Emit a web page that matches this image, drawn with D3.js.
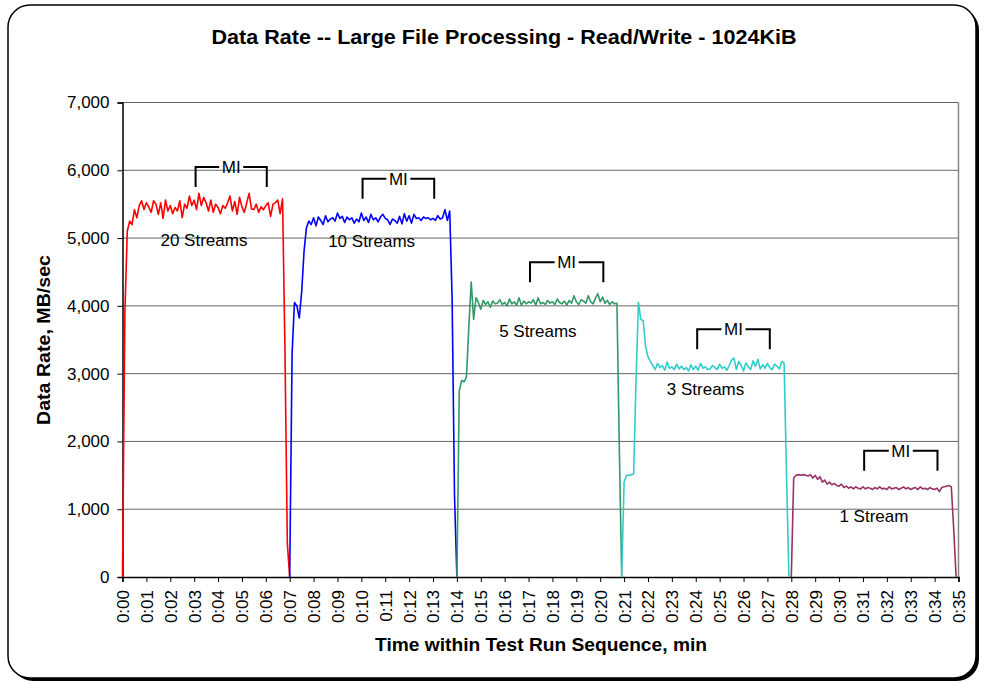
<!DOCTYPE html>
<html>
<head>
<meta charset="utf-8">
<script src="https://cdn.jsdelivr.net/npm/d3@7"></script>
<style>
  body { margin: 0; background: #fff; }
  text { font-family: "Liberation Sans", Arial, sans-serif; fill: #000; }
</style>
</head>
<body>
<div id="chart"></div>
<script>
// samples every 0.1 min, one array per run
const step = 0.1;

const streams20 = [0, 3900, 5100, 5250, 5200, 5420, 5300, 5480, 5550, 5420,
  5520, 5460, 5380, 5550, 5500, 5350, 5520, 5290, 5560, 5400,
  5480, 5360, 5450, 5400, 5550, 5300, 5500, 5440, 5620, 5480,
  5560, 5420, 5660, 5480, 5600, 5520, 5400, 5560, 5380, 5500,
  5450, 5360, 5480, 5440, 5520, 5620, 5400, 5540, 5350, 5600,
  5460, 5380, 5520, 5660, 5430, 5420, 5500, 5380, 5460, 5420,
  5480, 5520, 5320, 5500, 5520, 5560, 5360, 5580, 3400, 500, 0];

const streams10 = [0, 3300, 4050, 4000, 3820, 4200, 4800, 5150, 5250, 5200,
  5300, 5180, 5310, 5260, 5200, 5330, 5240, 5280, 5300, 5250,
  5370, 5290, 5320, 5230, 5310, 5270, 5300, 5220, 5280, 5240,
  5370, 5260, 5310, 5230, 5350, 5270, 5300, 5240, 5310, 5350,
  5290, 5270, 5200, 5280, 5260, 5220, 5320, 5210, 5360, 5250,
  5330, 5220, 5350, 5290, 5300, 5260, 5310, 5290, 5300, 5270,
  5290, 5260, 5330, 5280, 5300, 5420, 5260, 5400, 4100, 1200, 0];

const streams5 = [0, 2750, 2900, 2880, 2950, 3700, 4350, 3800, 4120, 4050,
  3950, 4080, 4020, 4060, 3980, 4070, 4030, 4040, 4090, 4020,
  4050, 4000, 4100, 4030, 4060, 4010, 4120, 4010, 4070, 4030,
  4060, 4040, 4090, 4010, 4120, 4030, 4050, 4020, 4080, 4040,
  4060, 4020, 4100, 4050, 4030, 4070, 4010, 4080, 4040, 4150,
  4060, 4020, 4090, 4070, 4040, 4150, 4060, 4030, 4110, 4180,
  4060, 4130, 4040, 4080, 4020, 4060, 4030, 4040, 1900, 0];

const streams3 = [0, 1400, 1500, 1500, 1510, 1520, 2900, 4050, 3800, 3780,
  3400, 3250, 3180, 3120, 3060, 3150, 3090, 3120, 3050, 3170,
  3080, 3100, 3060, 3140, 3070, 3110, 3060, 3090, 3040, 3130,
  3060, 3110, 3050, 3150, 3080, 3100, 3060, 3070, 3120, 3090,
  3060, 3140, 3080, 3100, 3050, 3120, 3200, 3230, 3060, 3180,
  3120, 3040, 3160, 3100, 3060, 3190, 3110, 3210, 3070, 3130,
  3080, 3150, 3090, 3060, 3140, 3110, 3070, 3180, 3150, 1500, 0];

const streams1 = [0, 1460, 1500, 1510, 1500, 1510, 1500, 1490, 1510, 1460,
  1500, 1440, 1480, 1400, 1430, 1370, 1400, 1360, 1380, 1350,
  1340, 1370, 1320, 1340, 1310, 1330, 1300, 1330, 1310, 1300,
  1330, 1300, 1320, 1310, 1290, 1320, 1300, 1330, 1300, 1310,
  1290, 1330, 1300, 1310, 1320, 1290, 1310, 1330, 1300, 1320,
  1290, 1310, 1320, 1290, 1330, 1300, 1310, 1290, 1320, 1300,
  1290, 1310, 1260, 1320, 1330, 1340, 1350, 1330, 700, 0];

const runNames = ["20 Streams", "10 Streams", "5 Streams", "3 Streams", "1 Stream"];
const runStarts = [0.0, 7.0, 14.0, 20.9, 28.0];
const runColors = ["#ff0000", "#0000ff", "#339966", "#33cccc", "#993366"];
const runValues = [streams20, streams10, streams5, streams3, streams1];

// run label anchor (min, MB/sec)
const labelX = [3.41, 10.43, 17.39, 24.41, 31.46];
const labelY = [4885, 4870, 3542, 2686, 812];

// measurement interval brackets
const miStart = [3.06, 10.05, 17.06, 24.06, 31.05];
const miEnd = [6.04, 13.05, 20.13, 27.1, 34.12];
const miTop = [6050, 5874, 4644, 3656, 1864];

const yTicks = [0, 1000, 2000, 3000, 4000, 5000, 6000, 7000];
const xTicks = d3.range(0, 36);

const W = 984, H = 683;
const svg = d3.select("#chart").append("svg")
  .attr("width", W).attr("height", H);

// frame with shadow
svg.append("rect")
  .attr("x", 11).attr("y", 8).attr("width", 968).attr("height", 673)
  .attr("rx", 22).attr("fill", "#000");
svg.append("rect")
  .attr("x", 8).attr("y", 5).attr("width", 968).attr("height", 673)
  .attr("rx", 22).attr("fill", "#fff").attr("stroke", "#000").attr("stroke-width", 1.5);

const x = d3.scaleLinear().domain([0, 35]).range([122.5, 958.5]);
const y = d3.scaleLinear().domain([0, 7000]).range([577, 102.5]);

// gridlines
svg.append("g")
  .selectAll("line")
  .data(yTicks.filter(d => d > 0))
  .join("line")
  .attr("x1", x(0)).attr("x2", x(35))
  .attr("y1", d => y(d)).attr("y2", d => y(d))
  .attr("stroke", "#666").attr("stroke-width", 1);

svg.append("line")
  .attr("x1", x(35)).attr("x2", x(35))
  .attr("y1", y(0)).attr("y2", y(7000))
  .attr("stroke", "#888").attr("stroke-width", 1.5);

// axes
const yAxis = svg.append("g")
  .attr("transform", `translate(${x(0)},0)`)
  .call(d3.axisLeft(y).tickValues(yTicks).tickSize(5).tickPadding(8)
    .tickFormat(d3.format(",")));
yAxis.selectAll("text").style("font-size", "17px");

const xAxis = svg.append("g")
  .attr("transform", `translate(0,${y(0)})`)
  .call(d3.axisBottom(x).tickValues(xTicks).tickSize(5)
    .tickFormat(d => "0:" + String(d).padStart(2, "0")));
xAxis.selectAll("text")
  .style("font-size", "17px")
  .attr("text-anchor", "end")
  .attr("transform", "rotate(-90)")
  .attr("x", -13).attr("y", 0).attr("dy", "0.35em");

svg.selectAll(".domain").attr("stroke", "#000").attr("stroke-width", 1.5);
svg.selectAll(".tick line").attr("stroke", "#000");

// data lines
const line = d3.line()
  .x(d => x(d[0]))
  .y(d => y(d[1]));

runValues.forEach((vals, k) => {
  const pts = vals.map((v, i) => [runStarts[k] + i * step, v]);
  svg.append("path")
    .datum(pts)
    .attr("fill", "none")
    .attr("stroke", runColors[k])
    .attr("stroke-width", 1.6)
    .attr("stroke-linejoin", "round")
    .attr("d", line);
});

// labels
svg.append("g")
  .selectAll("text")
  .data(runNames)
  .join("text")
  .attr("x", (d, i) => x(labelX[i]))
  .attr("y", (d, i) => y(labelY[i]))
  .attr("text-anchor", "middle")
  .style("font-size", "17px")
  .text(d => d);

// MI brackets
const mi = svg.append("g");
miStart.forEach((s, i) => {
  const x1 = x(s), x2 = x(miEnd[i]), yt = y(miTop[i]);
  const mid = (x1 + x2) / 2;
  const g = mi.append("g").attr("stroke", "#000").attr("stroke-width", 2).attr("fill", "none");
  g.append("path").attr("d", `M${x1},${yt + 20}V${yt}H${mid - 12}`);
  g.append("path").attr("d", `M${x2},${yt + 20}V${yt}H${mid + 12}`);
  mi.append("text")
    .attr("x", mid).attr("y", yt + 6)
    .attr("text-anchor", "middle")
    .style("font-size", "17px")
    .text("MI");
});

// titles
svg.append("text")
  .attr("x", 504).attr("y", 43.5)
  .attr("text-anchor", "middle")
  .attr("textLength", 585).attr("lengthAdjust", "spacingAndGlyphs")
  .style("font-size", "19.5px").style("font-weight", "bold")
  .text("Data Rate -- Large File Processing - Read/Write - 1024KiB");

svg.append("text")
  .attr("x", 541).attr("y", 651)
  .attr("text-anchor", "middle")
  .attr("textLength", 332).attr("lengthAdjust", "spacingAndGlyphs")
  .style("font-size", "18.5px").style("font-weight", "bold")
  .text("Time within Test Run Sequence, min");

svg.append("text")
  .attr("transform", "translate(50,340) rotate(-90)")
  .attr("text-anchor", "middle")
  .attr("textLength", 170).attr("lengthAdjust", "spacingAndGlyphs")
  .style("font-size", "18.5px").style("font-weight", "bold")
  .text("Data Rate, MB/sec");
</script>
</body>
</html>
